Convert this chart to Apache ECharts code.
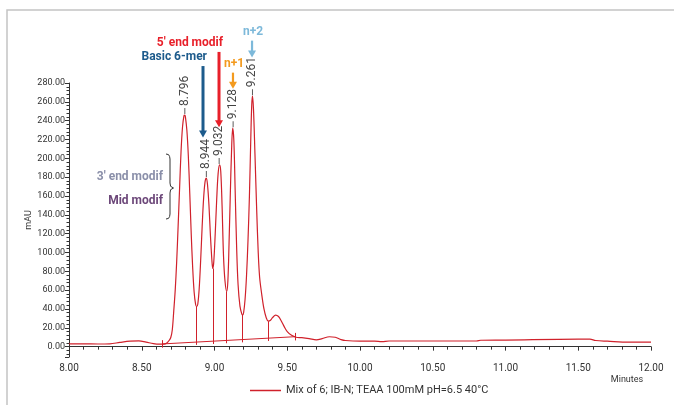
<!DOCTYPE html>
<html>
<head>
<meta charset="utf-8">
<script src="https://cdn.jsdelivr.net/npm/echarts@6/dist/echarts.min.js"></script>
<style>
  html, body { margin: 0; padding: 0; background: #fff; }
  #chart { width: 674px; height: 405px; }
</style>
</head>
<body>
<div id="chart"></div>
<script>
// chromatogram trace (minutes, mAU)
const times = [8.00, 8.10, 8.20, 8.28, 8.35, 8.42, 8.48, 8.53, 8.58, 8.62, 8.65, 8.67, 8.69, 8.70, 8.71, 8.72, 8.73, 8.74, 8.75, 8.76, 8.77, 8.78, 8.79, 8.796, 8.80, 8.81, 8.82, 8.83, 8.84, 8.85, 8.86, 8.87, 8.877, 8.885, 8.895, 8.905, 8.915, 8.925, 8.935, 8.944, 8.952, 8.962, 8.972, 8.982, 8.988, 8.995, 9.005, 9.015, 9.025, 9.035, 9.043, 9.052, 9.062, 9.072, 9.084, 9.092, 9.100, 9.108, 9.117, 9.125, 9.133, 9.142, 9.152, 9.162, 9.175, 9.188, 9.194, 9.200, 9.210, 9.220, 9.230, 9.240, 9.250, 9.256, 9.261, 9.268, 9.278, 9.290, 9.300, 9.310, 9.325, 9.340, 9.355, 9.370, 9.385, 9.400, 9.420, 9.440, 9.460, 9.480, 9.500, 9.530, 9.560, 9.600, 9.650, 9.700, 9.740, 9.790, 9.830, 9.870, 9.900, 10.00, 10.10, 10.15, 10.20, 10.40, 10.80, 10.83, 11.00, 11.50, 11.58, 11.62, 11.70, 11.85, 12.00];
const mau =   [3.0, 3.0, 2.8, 3.0, 4.5, 5.8, 6.2, 4.8, 3.2, 2.6, 2.6, 3.5, 7, 10, 18, 38, 60, 90, 128, 168, 207, 233, 245, 246, 244, 230, 203, 163, 120, 84, 58, 45, 42.5, 45, 62, 92, 127, 157, 175, 179, 172, 150, 118, 92, 83, 90, 120, 156, 184, 193, 186, 150, 96, 70, 58.5, 70, 110, 158, 207, 232, 219, 166, 106, 66, 43, 34.5, 33.7, 36, 50, 75, 112, 160, 225, 257, 266, 252, 205, 145, 102, 74, 55, 40, 31, 27, 28, 31, 33.5, 32, 27, 21, 16, 12, 10, 9.5, 8.5, 7.2, 8.5, 10.5, 10, 7.5, 6.5, 5.8, 5.8, 5.3, 6.0, 6.0, 6.0, 6.8, 7.0, 8.0, 8.0, 6.5, 5.8, 4.8, 4.8];

// labelled peaks
const peakTimes = [8.796, 8.944, 9.032, 9.128, 9.261];
const peakHeights = [246, 179, 193, 232, 266];
const peakLabels = ['8.796', '8.944', '9.032', '9.128', '9.261'];

// integration baseline and valley drop lines
const baseStart = [8.644, 2.9];
const baseEnd = [9.558, 10.6];
const valleyTimes = [8.877, 8.988, 9.084, 9.194, 9.370];
const valleyHeights = [42.5, 83, 58.5, 33.7, 27];

// arrows: [time, top mAU, tip mAU]
const arrowNames = ['Basic 6-mer', "5' end modif", 'n+1', 'n+2'];
const arrowPos = [[8.921, 298, 222], [9.031, 313, 233], [9.127, 291, 274], [9.258, 325, 307]];
const arrowColors = ['#1d5b8c', '#e8202a', '#f39a1e', '#7db9da'];

const seriesName = 'Mix of 6; IB-N; TEAA 100mM pH=6.5 40°C';
const red = '#d0212b';

const chart = echarts.init(document.getElementById('chart'));

const baseAt = t => baseStart[1] + (t - baseStart[0]) / (baseEnd[0] - baseStart[0]) * (baseEnd[1] - baseStart[1]);

const dropLines = valleyTimes.map((t, i) => [
  { coord: [t, baseAt(t) - 3] },
  { coord: [t, valleyHeights[i]] }
]);
const endTicks = [baseStart, baseEnd].map(p => [
  { coord: [p[0], p[1] - 4] },
  { coord: [p[0], p[1] + 4] }
]);

const font = 'Roboto, "Noto Sans", sans-serif';

chart.setOption({
  animation: false,
  textStyle: { fontFamily: font },
  grid: { left: 69, right: 23, top: 83, bottom: 48 },
  legend: {
    data: [seriesName],
    left: 245,
    top: 380,
    icon: 'rect',
    itemWidth: 31,
    itemHeight: 1.5,
    textStyle: { fontSize: 11, color: '#333', fontFamily: font }
  },
  xAxis: {
    type: 'value',
    min: 8,
    max: 12,
    interval: 0.5,
    axisLine: { lineStyle: { color: '#333', width: 1 } },
    axisTick: { length: 4, lineStyle: { color: '#333' } },
    minorTick: { show: true, splitNumber: 5, length: 3, lineStyle: { color: '#333' } },
    splitLine: { show: false },
    axisLabel: { fontSize: 10, color: '#333', margin: 6, formatter: v => v.toFixed(2) }
  },
  yAxis: {
    type: 'value',
    min: -11,
    max: 280,
    splitNumber: 15,
    name: 'mAU',
    nameLocation: 'middle',
    nameGap: 36,
    nameMoveOverlap: false,
    nameTextStyle: { fontSize: 9, color: '#333' },
    axisLine: { show: true, lineStyle: { color: '#333', width: 1 } },
    axisTick: { show: true, length: 4, lineStyle: { color: '#333' } },
    minorTick: { show: true, splitNumber: 5, length: 2.5, lineStyle: { color: '#333' } },
    splitLine: { show: false },
    axisLabel: {
      fontSize: 9, color: '#333', margin: 4, showMinLabel: false,
      formatter: v => (v < 0 ? '' : v.toFixed(2))
    }
  },
  series: [
    {
      name: seriesName,
      type: 'line',
      data: times.map((t, i) => [t, mau[i]]),
      smooth: 0.35,
      symbol: 'none',
      color: red,
      lineStyle: { color: red, width: 1.2 },
      z: 3
    },
    {
      name: 'baseline',
      type: 'line',
      data: [baseStart, baseEnd],
      symbol: 'none',
      lineStyle: { color: red, width: 1 },
      markLine: {
        symbol: 'none',
        silent: true,
        label: { show: false },
        lineStyle: { color: red, width: 1, type: 'solid' },
        data: dropLines.concat(endTicks)
      }
    },
    {
      name: 'peaks',
      type: 'scatter',
      data: peakTimes.map((t, i) => [t, peakHeights[i]]),
      symbol: 'rect',
      symbolSize: [1, 6],
      symbolOffset: [0, -4],
      itemStyle: { color: '#333' },
      label: {
        show: true,
        position: 'top',
        distance: 2,
        rotate: 90,
        align: 'left',
        verticalAlign: 'middle',
        fontSize: 12,
        color: '#111',
        formatter: p => peakLabels[p.dataIndex]
      },
      z: 4
    }
  ]
});

// annotations placed through the axes
const px = (t, v) => chart.convertToPixel({ gridIndex: 0 }, [t, v]);
const g = [];

// frame round the figure
g.push({
  type: 'polyline',
  shape: { points: [[7, 405], [7, 10], [674, 10]] },
  style: { stroke: '#c4c4c4', lineWidth: 1.5, fill: null },
  silent: true
});

arrowPos.forEach((a, i) => {
  const top = px(a[0], a[1]);
  const tip = px(a[0], a[2]);
  const long = (tip[1] - top[1]) > 30;
  const head = 7;
  g.push({
    type: 'line',
    shape: { x1: top[0], y1: top[1], x2: tip[0], y2: tip[1] - head + 1 },
    style: { stroke: arrowColors[i], lineWidth: long ? 3 : 2.2 }
  });
  g.push({
    type: 'polygon',
    shape: { points: [[tip[0] - 4, tip[1] - head], [tip[0] + 4, tip[1] - head], [tip[0], tip[1]]] },
    style: { fill: arrowColors[i] }
  });
  const textStyle = { text: arrowNames[i], fill: arrowColors[i], font: 'bold 12px ' + font, textVerticalAlign: 'middle' };
  if (long) {
    g.push({ type: 'text', x: top[0] + 4, y: top[1] - 9, style: Object.assign({ textAlign: 'right' }, textStyle) });
  } else {
    g.push({ type: 'text', x: top[0] + 1, y: top[1] - 9, style: Object.assign({ textAlign: 'center' }, textStyle) });
  }
});

// bracketed labels on the left
g.push({ type: 'text', x: 163, y: 177, style: { text: "3' end modif", fill: '#8a8fa9', font: 'bold 12px ' + font, textAlign: 'right', textVerticalAlign: 'middle' } });
g.push({ type: 'text', x: 163, y: 201, style: { text: 'Mid modif', fill: '#6c4779', font: 'bold 12px ' + font, textAlign: 'right', textVerticalAlign: 'middle' } });
// curly brace
g.push({
  type: 'polyline',
  shape: {
    points: [[166, 154], [168.5, 154.6], [169.6, 156.5], [170, 159], [170, 183], [170.6, 186.3], [173.5, 188],
             [170.6, 189.7], [170, 193], [170, 214], [169.6, 216.5], [168.5, 218.4], [166, 219]]
  },
  style: { stroke: '#333', lineWidth: 1, fill: null }
});

g.push({ type: 'text', x: 627, y: 380, style: { text: 'Minutes', fill: '#333', font: '9px ' + font, textAlign: 'center', textVerticalAlign: 'middle' } });

chart.setOption({ graphic: g });
</script>
</body>
</html>
